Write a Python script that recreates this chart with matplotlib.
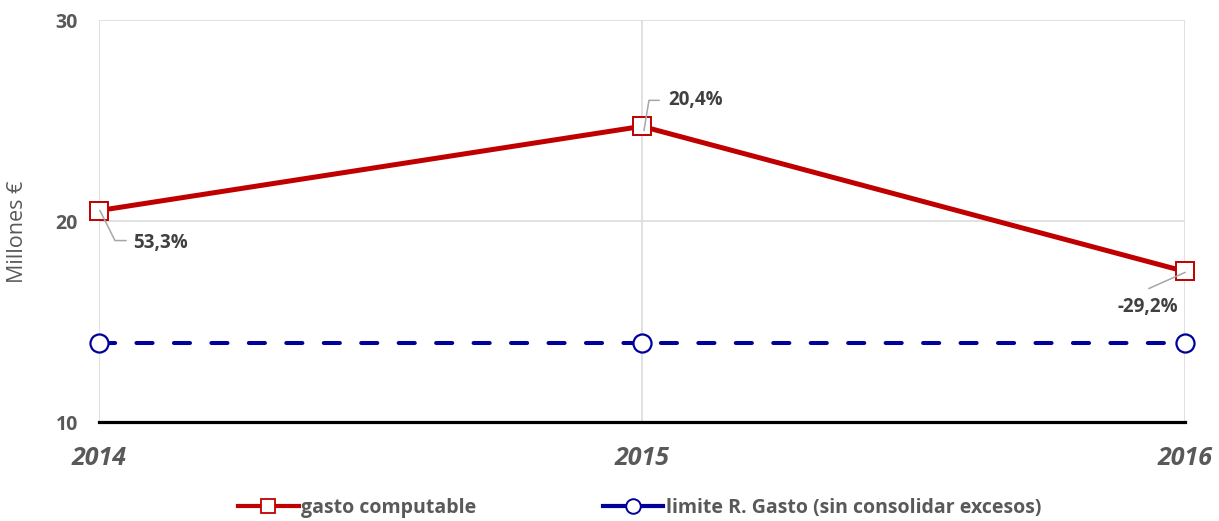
import matplotlib
matplotlib.use("Agg")
import matplotlib.pyplot as plt
from matplotlib.lines import Line2D
from matplotlib.transforms import ScaledTranslation

years = [2014, 2015, 2016]
gasto_computable = [20.52, 24.71, 17.49]
limite_regla_gasto = [13.93, 13.93, 13.93]
variaciones = ["53,3%", "20,4%", "-29,2%"]
y_ticks = [10, 20, 30]

RED = "#C00000"
BLUE = "#00009A"
TEXT = "#595959"
LABEL = "#404040"
GRID = "#D9D9D9"
LEADER = "#A6A6A6"

plt.rcParams["font.family"] = ["Open Sans", "DejaVu Sans"]

fig = plt.figure(figsize=(12.19, 5.21), dpi=100)
ax = fig.add_axes([0.0812, 0.19, 0.8909, 0.7716])

ax.plot(years, limite_regla_gasto, color=BLUE, lw=2.9, dashes=(4, 5.3),
        dash_capstyle="round", marker="o", ms=13, mfc="white", mec=BLUE,
        mew=1.6, zorder=3, clip_on=False)
ax.plot(years, gasto_computable, color=RED, lw=3.6, solid_capstyle="butt",
        marker="s", ms=13, mfc="white", mec=RED, mew=1.4, zorder=4,
        clip_on=False)

ax.set_xlim(years[0], years[-1])
ax.set_ylim(y_ticks[0], y_ticks[-1])
ax.set_xticks(years)
ax.set_yticks(y_ticks)
ax.grid(True, color=GRID, lw=1.1)
ax.set_axisbelow(True)
for side in ["top", "right", "left"]:
    ax.spines[side].set_visible(False)
ax.spines["bottom"].set_color("black")
ax.spines["bottom"].set_linewidth(2.3)
ax.spines["bottom"].set_zorder(2.5)
ax.tick_params(length=0)
ax.tick_params(axis="y", pad=15, labelsize=14, labelcolor=TEXT)
ax.tick_params(axis="x", pad=17, labelsize=18, labelcolor=TEXT)
for lbl in ax.get_yticklabels():
    lbl.set_fontweight("bold")
for lbl in ax.get_xticklabels():
    lbl.set_fontweight("bold")
    lbl.set_fontstyle("italic")

ax.set_ylabel("Millones €", color=TEXT, fontsize=15.5)
ax.yaxis.set_label_coords(-0.065, 0.473)

# value labels with leader lines; offsets in pixels from each marker
text_offsets = [(34, -32, "left"), (26, 26, "left"), (-37, -36, "center")]
leader_paths = [
    [(1, 0), (16, -30), (27, -30)],
    [(2, -4), (7, 26), (17, 26)],
    [(0, -1), (-36, -17)],
]
for x, y, txt, (dx, dy, ha), path in zip(years, gasto_computable, variaciones,
                                         text_offsets, leader_paths):
    anchor = fig.dpi_scale_trans + ScaledTranslation(x, y, ax.transData)
    ax.text(dx / 100, dy / 100, txt, transform=anchor, ha=ha, va="center",
            fontsize=13.5, fontweight="bold", color=LABEL, zorder=6)
    ax.add_line(Line2D([p[0] / 100 for p in path], [p[1] / 100 for p in path],
                       transform=anchor, color=LEADER, lw=1.1, zorder=5,
                       clip_on=False))

handles = [
    Line2D([], [], color=RED, lw=3, marker="s", ms=10.5, mfc="white",
           mec=RED, mew=1.3),
    Line2D([], [], color=BLUE, lw=3, marker="o", ms=10.5, mfc="white",
           mec=BLUE, mew=1.4),
]
leg = fig.legend(handles, ["gasto computable",
                           "limite R. Gasto (sin consolidar excesos)"],
                 loc="center", bbox_to_anchor=(0.525, 0.025), ncol=2,
                 frameon=False, handlelength=3.1, handletextpad=0.15,
                 columnspacing=6.5, prop=dict(size=14, weight="bold"))
for t in leg.get_texts():
    t.set_color(TEXT)

fig.savefig("out.png", dpi=100)
